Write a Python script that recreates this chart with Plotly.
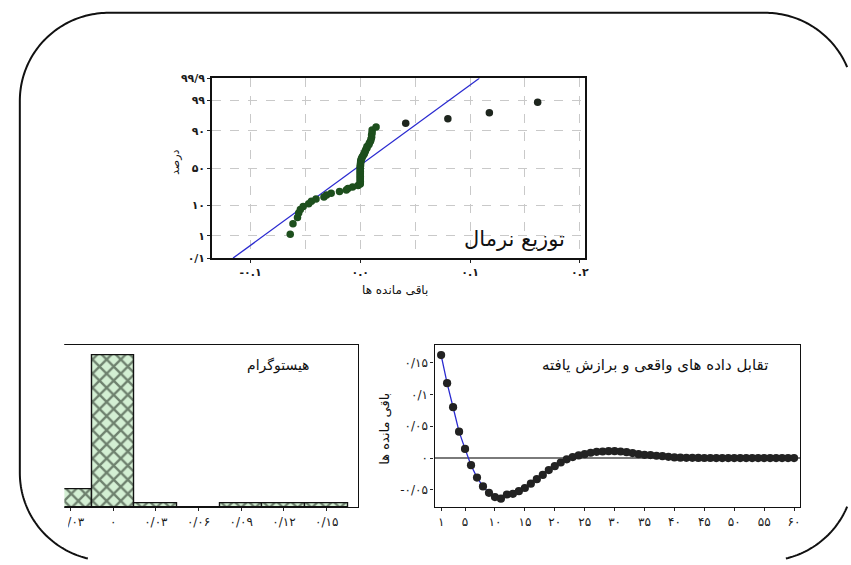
import math
import plotly.graph_objects as go
from statistics import NormalDist

W, H = 851, 565

# ---------------- data ----------------
residuals = [0.1616, 0.1176, 0.0798, 0.0414, 0.0144, -0.0112, -0.0307, -0.0445, -0.0546, -0.0613,
             -0.0638, -0.0572, -0.0561, -0.0520, -0.0470, -0.0403, -0.0331, -0.0265, -0.0189, -0.0127,
             -0.0070, -0.0020, 0.0015, 0.0041, 0.0061, 0.0083, 0.0098, 0.0103, 0.0108, 0.0108,
             0.0103, 0.0093, 0.0078, 0.0061, 0.0051, 0.0046, 0.0036, 0.0030, 0.0020, 0.0010,
             0.0006, 0.0004, 0.0003, 0.0002, 0.0001, 0.0001, 0.0000, 0.0000, 0.0000, 0.0000,
             0.0000, 0.0000, 0.0000, 0.0000, 0.0000, 0.0000, 0.0000, 0.0000, 0.0000, 0.0000]
obs_index = list(range(1, 61))

prob_tick_pct = [0.1, 1, 10, 50, 90, 99, 99.9]
prob_tick_labels = ["۰/۱", "۱", "۱۰", "۵۰", "۹۰", "۹۹", "۹۹/۹"]
prob_x_ticks = [-0.1, 0.0, 0.1, 0.2]
prob_x_labels = ["-۰.۱", "۰.۰", "۰.۱", "۰.۲"]
prob_x_grid = [-0.05, 0.05, 0.15]
fit_mean = -0.0037
fit_sd = 0.0363

hist_centers = [-0.06, -0.03, 0.0, 0.03, 0.06, 0.09, 0.12, 0.15]
hist_counts = [8, 5, 43, 1, 0, 1, 1, 1]
hist_tick_vals = [-0.03, 0.0, 0.03, 0.06, 0.09, 0.12, 0.15]
hist_tick_labels = ["-۰/۰۳", "۰", "۰/۰۳", "۰/۰۶", "۰/۰۹", "۰/۱۲", "۰/۱۵"]

ts_x_ticks = [1, 5, 10, 15, 20, 25, 30, 35, 40, 45, 50, 55, 60]
ts_x_labels = ["۱", "۵", "۱۰", "۱۵", "۲۰", "۲۵", "۳۰", "۳۵", "۴۰", "۴۵", "۵۰", "۵۵", "۶۰"]
ts_y_ticks = [-0.05, 0.0, 0.05, 0.1, 0.15]
ts_y_labels = ["-۰/۰۵", "۰", "۰/۰۵", "۰/۱", "۰/۱۵"]

# ---------------- helpers ----------------
def fx(px):
    return px / W

def fy(py):
    return 1 - py / H

nd = NormalDist()
FONT = "DejaVu Sans"

# normal probability plot positions (median ranks)
n = len(residuals)
srt = sorted(residuals)
pp_z = [nd.inv_cdf((i + 1 - 0.3) / (n + 0.4)) for i in range(n)]
z_lo, z_hi = nd.inv_cdf(0.001), nd.inv_cdf(0.999)

fig = go.Figure()

# --- normal probability plot ---
fig.add_trace(go.Scatter(
    x=[fit_mean + fit_sd * z_lo, fit_mean + fit_sd * z_hi], y=[z_lo, z_hi],
    mode="lines", line=dict(color="#2a2ad0", width=1.3),
    xaxis="x", yaxis="y", showlegend=False, hoverinfo="skip"))
fig.add_trace(go.Scatter(
    x=srt[:-4], y=pp_z[:-4], mode="markers",
    marker=dict(color="#1d4f1d", size=7.5),
    xaxis="x", yaxis="y", showlegend=False))
fig.add_trace(go.Scatter(
    x=srt[-4:], y=pp_z[-4:], mode="markers",
    marker=dict(color="#1e261e", size=7.5),
    xaxis="x", yaxis="y", showlegend=False))

# --- histogram ---
fig.add_trace(go.Bar(
    x=hist_centers, y=hist_counts, width=0.03,
    marker=dict(color="#d3efd3", line=dict(color="#111", width=1.4),
                pattern=dict(shape="x", fgcolor="#0a140a", bgcolor="#d3efd3",
                             size=10, solidity=0.42)),
    xaxis="x2", yaxis="y2", showlegend=False))

# --- time series of residuals ---
fig.add_trace(go.Scatter(
    x=obs_index, y=residuals, mode="lines+markers",
    line=dict(color="#2a2ad0", width=1.3),
    marker=dict(color="#222222", size=8.2),
    xaxis="x3", yaxis="y3", showlegend=False))

tickfont_top = dict(family=FONT, size=11, color="#1a1a1a", weight="bold")
tickfont = dict(family=FONT, size=12, color="#1a1a1a")
grid = dict(showgrid=True, gridcolor="#c9c9c9", gridwidth=1, griddash="dash")

fig.update_layout(
    width=W, height=H,
    margin=dict(l=0, r=0, t=0, b=0),
    paper_bgcolor="white", plot_bgcolor="white",
    font=dict(family=FONT),
    bargap=0,
    xaxis=dict(domain=[fx(207), fx(585)], range=[-0.135, 0.2045], anchor="y",
               tickmode="array", tickvals=prob_x_ticks, ticktext=prob_x_labels,
               ticks="outside", ticklen=3, tickcolor="#222", tickfont=tickfont_top,
               showline=True, linecolor="#111", linewidth=1.6, mirror=True,
               zeroline=False,
               minor=dict(tickmode="array", tickvals=prob_x_grid, showgrid=True,
                          gridcolor="#c9c9c9", griddash="dash", ticks=""),
               **grid),
    yaxis=dict(domain=[fy(258), fy(74)], range=[z_lo, z_hi], anchor="x",
               tickmode="array", tickvals=[nd.inv_cdf(p / 100) for p in prob_tick_pct],
               ticktext=prob_tick_labels, ticks="outside", ticklen=3, tickcolor="#222",
               tickfont=tickfont_top, showline=True, linecolor="#111", linewidth=1.6,
               mirror=True, zeroline=False, **grid),
    xaxis2=dict(domain=[fx(57), fx(355)], range=[-0.0344, 0.172], anchor="y2",
                tickmode="array", tickvals=hist_tick_vals, ticktext=hist_tick_labels,
                ticks="outside", ticklen=3, tickcolor="#222", tickfont=tickfont,
                showline=True, linecolor="#111", linewidth=1.4, mirror=True,
                showgrid=False, zeroline=False),
    yaxis2=dict(domain=[fy(512.7), fy(347.3)], range=[0, 45.8], anchor="x2",
                side="right", showticklabels=False, ticks="",
                showline=True, linecolor="#111", linewidth=1.4,
                showgrid=False, zeroline=False),
    xaxis3=dict(domain=[fx(432.7), fx(803.3)], range=[-0.09, 60.99], anchor="y3",
                tickmode="array", tickvals=ts_x_ticks, ticktext=ts_x_labels,
                ticks="outside", ticklen=3, tickcolor="#222", tickfont=tickfont,
                showline=True, linecolor="#111", linewidth=1.4, mirror=True,
                showgrid=False, zeroline=False),
    yaxis3=dict(domain=[fy(512.7), fy(347.3)], range=[-0.0767, 0.177], anchor="x3",
                tickmode="array", tickvals=ts_y_ticks, ticktext=ts_y_labels,
                ticks="outside", ticklen=3, tickcolor="#222", tickfont=tickfont,
                showline=True, linecolor="#111", linewidth=1.4, mirror=True,
                showgrid=False, zeroline=True, zerolinecolor="#7a7a7a", zerolinewidth=1.5),
)

# --- rounded outer frame (only the part inside the page) and crop masks ---
bx0, by0, bx1, by1, br = 12, 7, 858, 568, 90
pts = []
def arc(cx, cy, a0, a1, steps=60):
    for s in range(steps + 1):
        a = math.radians(a0 + (a1 - a0) * s / steps)
        pts.append((cx + br * math.cos(a), cy + br * math.sin(a)))
arc(bx0 + br, by1 - br, 90, 180)      # bottom-left (screen coords, y down)
arc(bx0 + br, by0 + br, 180, 270)     # top-left
arc(bx1 - br, by0 + br, 270, 360)     # top-right
arc(bx1 - br, by1 - br, 0, 90)        # bottom-right
runs, cur = [], []
for x, y in pts:
    if 0 <= x <= W + 1 and 0 <= y <= H + 1:
        cur.append((x, y))
    elif cur:
        runs.append(cur)
        cur = []
if cur:
    runs.append(cur)
path = " ".join("M " + " L ".join(f"{fx(x):.5f},{fy(y):.5f}" for x, y in run) for run in runs if len(run) > 1)

fig.update_layout(shapes=[
    dict(type="rect", xref="paper", yref="paper", x0=0, x1=fx(57), y0=fy(540), y1=fy(330),
         fillcolor="white", line=dict(width=0), layer="above"),
    dict(type="rect", xref="paper", yref="paper", x0=0, x1=fx(61), y0=fy(536), y1=fy(517),
         fillcolor="white", line=dict(width=0), layer="above"),
    dict(type="path", xref="paper", yref="paper", path=path,
         line=dict(color="#111", width=2), layer="above"),
])

ann_font = dict(family=FONT, color="#111")
def ann(text, x, y, size, angle=0, xanchor="center"):
    return dict(text=text, x=fx(x), y=fy(y), xref="paper", yref="paper",
                xanchor=xanchor, yanchor="middle", textangle=angle,
                showarrow=False, font=dict(size=size, **ann_font))

fig.update_layout(annotations=[
    ann("توزیع نرمال", 567, 238, 21, xanchor="right"),
    ann("درصد", 170, 160, 11, angle=-90),
    ann("باقی مانده ها", 393, 291, 12),
    ann("هیستوگرام", 308, 368, 14, xanchor="right"),
    ann("تقابل داده های واقعی و برازش یافته", 773, 367, 15, xanchor="right"),
    ann("باقی مانده ها", 381, 433, 13, angle=-90),
])

fig.write_html("out.html", config={"displayModeBar": False},
               post_script="document.body.style.margin='0';document.body.style.overflow='hidden';")
